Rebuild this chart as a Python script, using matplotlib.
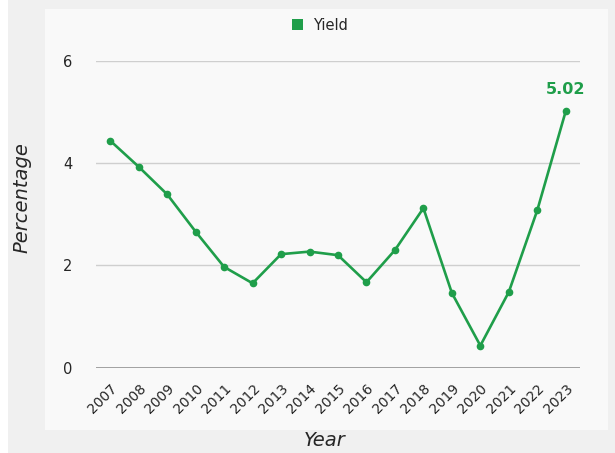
import matplotlib
matplotlib.use("Agg")
import matplotlib.pyplot as plt
from matplotlib.patches import Rectangle, Patch
from matplotlib.transforms import ScaledTranslation

years = ["2007", "2008", "2009", "2010", "2011", "2012", "2013", "2014", "2015",
         "2016", "2017", "2018", "2019", "2020", "2021", "2022", "2023"]
yield_pct = [4.44, 3.93, 3.39, 2.66, 1.97, 1.65, 2.22, 2.27, 2.20,
             1.67, 2.30, 3.12, 1.46, 0.43, 1.48, 3.08, 5.02]
y_ticks = [0, 2, 4, 6]

GREEN = "#1f9e4a"
TEXT = "#262626"
plt.rcParams["font.family"] = ["DejaVu Sans"]

W, H = 615, 453
fig = plt.figure(figsize=(W / 100, H / 100), dpi=100, facecolor="white")

def fx(px):
    return px / W

def fy(py):
    return 1 - py / H

# outer grey backdrop and inner light panel
fig.patches.append(Rectangle((fx(8), 0), fx(W - 8), 1, transform=fig.transFigure,
                             facecolor="#f0f0f0", edgecolor="none", zorder=-20))
fig.patches.append(Rectangle((fx(45), fy(430)), fx(608 - 45), (430 - 9) / H,
                             transform=fig.transFigure, facecolor="#f9f9f9",
                             edgecolor="none", zorder=-10))

ax = fig.add_axes([fx(96), fy(367.6), fx(580 - 96), (367.6 - 61) / H])
ax.set_facecolor("none")
ax.set_zorder(5)
x = list(range(len(years)))
ax.plot(x, yield_pct, color=GREEN, lw=1.9, marker="o", markersize=4.5, zorder=3)

ax.set_xlim(-0.5, len(years) - 0.5)
ax.set_ylim(0, 6)
ax.set_yticks(y_ticks)
ax.set_yticklabels([str(t) for t in y_ticks], fontsize=10.5, color=TEXT)
ax.set_xticks(x)
ax.set_xticklabels(years, rotation=45, ha="right", rotation_mode="anchor",
                   fontsize=10, color=TEXT)
shift = ScaledTranslation(6 / 100, 0, fig.dpi_scale_trans)
for lab in ax.get_xticklabels():
    lab.set_transform(lab.get_transform() + shift)
ax.tick_params(axis="both", length=0)
ax.tick_params(axis="y", pad=17)
ax.tick_params(axis="x", pad=10)
for s in ax.spines.values():
    s.set_visible(False)
for t in y_ticks[1:]:
    ax.axhline(t, color="#cfcfcf", lw=1, zorder=1)
ax.axhline(0, color="#9a9a9a", lw=1.3, zorder=1)

ax.annotate(f"{yield_pct[-1]:.2f}", (x[-1], yield_pct[-1]), xytext=(0, 10),
            textcoords="offset points", ha="center", va="bottom",
            fontsize=11.5, fontweight="bold", color=GREEN)

fig.text(fx(325), fy(440), "Year", ha="center", va="center", fontsize=14,
         style="italic", color=TEXT, zorder=6)
fig.text(fx(22), fy(198), "Percentage", ha="center", va="center", fontsize=14,
         style="italic", rotation=90, color=TEXT, zorder=6)

leg = fig.legend(handles=[Patch(facecolor=GREEN, edgecolor="none", label="Yield")],
                 loc="center", bbox_to_anchor=(fx(320), fy(25)), frameon=False,
                 handlelength=0.8, handleheight=0.8, handletextpad=0.7, fontsize=10.5,
                 labelcolor=TEXT)
leg.set_zorder(6)

fig.savefig("out.png", dpi=100, facecolor=fig.get_facecolor())
